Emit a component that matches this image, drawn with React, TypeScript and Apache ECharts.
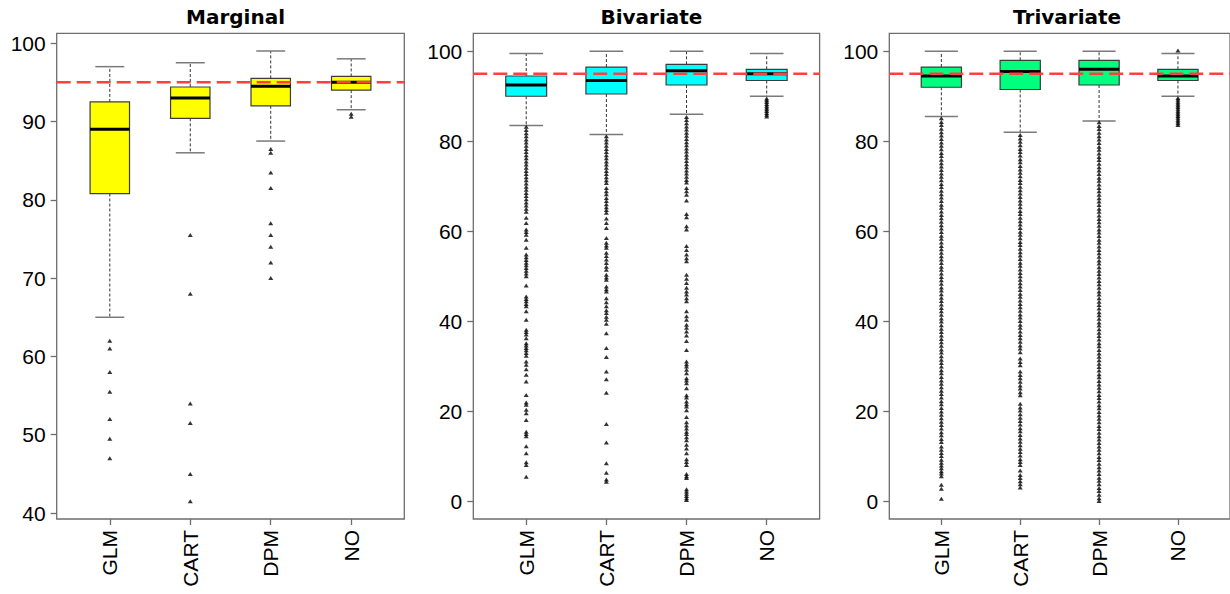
import React, { useEffect, useRef } from "react";
import * as echarts from "echarts";

const categories = ["GLM", "CART", "DPM", "NO"];
const panelTitles = ["Marginal", "Bivariate", "Trivariate"];
const boxColors = ["#ffff00", "#00ffff", "#00ff7f"];
const referenceLevel = 95;

// [lower whisker, Q1, median, Q3, upper whisker]
const marginalBoxes = [
  [65.0, 80.8, 89.0, 92.5, 97.0],
  [86.0, 90.4, 93.0, 94.4, 97.5],
  [87.5, 92.0, 94.5, 95.5, 99.0],
  [91.5, 94.0, 95.0, 95.75, 98.0],
];
const bivariateBoxes = [
  [83.5, 90.0, 92.5, 94.5, 99.5],
  [81.5, 90.5, 93.5, 96.5, 100.0],
  [86.0, 92.5, 95.7, 97.1, 100.0],
  [90.0, 93.5, 95.0, 96.0, 99.5],
];
const trivariateBoxes = [
  [85.5, 92.0, 94.5, 96.5, 100.0],
  [82.0, 91.5, 95.5, 98.0, 100.0],
  [84.5, 92.5, 96.0, 98.0, 100.0],
  [90.0, 93.5, 94.5, 96.0, 99.5],
];

const marginalOutGLM = [62, 61, 58, 55.5, 52, 49.5, 47];
const marginalOutCART = [75.5, 68, 54, 51.5, 45, 41.5];
const marginalOutDPM = [86.5, 86.0, 83.5, 81.5, 77, 75.5, 74, 72, 70];
const marginalOutNO = [91, 90.6];

const bivariateOutGLM = [
  83.2, 82.5, 81.8, 81.1, 80.4, 79.7, 79.0, 78.3, 77.6, 76.9, 76.2, 75.5, 74.8, 74.1, 73.4, 72.7, 72.0, 71.3,
  70.6, 69.9, 69.2, 68.5, 67.8, 67.1, 66.4, 65.7, 65.0, 64.3, 63.0, 61.8, 60.4, 59.8, 59.2, 58.1, 56.3, 54.8,
  54.2, 53.6, 53.0, 52.4, 51.8, 51.2, 50.6, 50.0, 47.9, 45.5, 44.9, 44.4, 43.8, 43.3, 42.2, 40.3, 38.1, 37.6,
  37.0, 36.2, 35.1, 34.6, 34.0, 33.5, 32.9, 32.3, 31.0, 30.3, 29.3, 28.1, 26.6, 23.6, 21.9, 21.4, 20.3, 19.5,
  18.0, 15.4, 14.9, 14.4, 12.2, 10.6, 8.6, 8.0, 5.4,
];
const bivariateOutCART = [
  81.1, 80.4, 79.7, 79.0, 78.3, 77.6, 76.9, 76.2, 75.5, 74.8, 74.1, 73.4, 72.7, 72.0, 71.3, 70.7, 69.6, 68.9,
  68.2, 67.4, 66.7, 66.0, 65.3, 64.7, 64.1, 62.8, 61.8, 60.7, 58.5, 57.4, 56.8, 56.3, 55.2, 54.5, 53.7, 52.9,
  52.1, 51.4, 50.3, 49.7, 49.2, 47.7, 47.1, 46.6, 45.1, 44.2, 43.3, 42.4, 41.8, 41.0, 40.3, 39.4, 37.3, 34.0,
  32.0, 28.8, 27.1, 24.1, 17.1, 13.0, 8.4, 6.3, 4.8, 4.3,
];
const bivariateOutDPM = [
  85.4, 84.7, 84.0, 83.3, 82.6, 81.9, 81.2, 80.5, 79.8, 79.1, 78.4, 77.7, 77.0, 76.3, 75.6, 74.9, 74.2, 73.5,
  72.8, 72.1, 71.4, 70.8, 69.6, 68.9, 68.1, 66.8, 63.8, 63.1, 61.1, 60.4, 56.7, 55.8, 54.8, 54.0, 53.3, 50.3,
  49.4, 48.5, 47.4, 46.6, 45.9, 45.1, 44.4, 42.2, 41.1, 40.3, 39.2, 38.5, 37.7, 36.8, 35.6, 33.6, 31.0, 30.4,
  29.9, 29.2, 28.4, 27.3, 26.8, 26.2, 25.1, 23.5, 23.0, 22.1, 21.5, 21.0, 20.2, 18.7, 17.5, 16.8, 16.1, 15.4,
  14.9, 14.2, 13.5, 12.5, 11.7, 10.6, 9.3, 8.7, 8.0, 6.0, 5.5, 5.1, 2.6, 2.1, 1.6, 1.1, 0.6, 0.2,
];
const bivariateOutNO = [89.5, 89.1, 88.7, 88.3, 87.9, 87.5, 87.1, 86.7, 86.3, 85.9, 85.5];

const trivariateOutGLM = [
  85.1, 84.3, 83.6, 82.8, 82.0, 81.3, 80.5, 79.7, 79.0, 78.2, 77.4, 76.7, 75.9, 75.1, 74.4, 73.6, 72.8, 72.1,
  71.3, 70.5, 69.8, 69.0, 68.2, 67.5, 66.7, 65.9, 65.2, 64.4, 63.6, 62.9, 62.1, 61.3, 60.6, 59.8, 59.0, 58.3,
  57.5, 56.7, 56.0, 55.2, 54.4, 53.7, 52.9, 52.1, 51.4, 50.6, 49.8, 49.1, 48.3, 47.5, 46.8, 46.0, 45.2, 44.5,
  43.7, 42.9, 42.2, 41.4, 40.6, 39.9, 39.1, 38.3, 37.6, 36.8, 36.0, 35.3, 34.5, 33.7, 33.0, 32.2, 31.4, 30.7,
  29.9, 29.1, 28.4, 27.6, 26.8, 26.1, 25.3, 24.5, 23.8, 23.0, 22.2, 21.5, 20.7, 19.9, 19.2, 18.4, 17.6, 16.9,
  16.1, 15.3, 14.6, 13.8, 13.1, 12.1, 11.4, 10.7, 10.0, 9.2, 8.5, 7.9, 7.3, 6.6, 6.1, 5.5, 3.6, 2.7, 0.5,
];
const trivariateOutCART = [
  81.4, 80.6, 79.9, 79.1, 78.3, 77.6, 76.8, 76.0, 75.3, 74.5, 73.7, 73.0, 72.2, 71.4, 70.7, 69.9, 69.1, 68.4,
  67.6, 66.8, 66.1, 65.3, 64.5, 63.8, 63.0, 62.2, 61.5, 60.7, 59.9, 59.2, 58.4, 57.6, 56.9, 56.1, 55.3, 54.6,
  53.8, 53.0, 52.3, 51.5, 50.7, 50.0, 49.2, 48.4, 47.7, 46.9, 46.1, 45.4, 44.6, 43.8, 43.1, 42.3, 41.5, 40.8,
  40.0, 39.2, 38.5, 37.7, 36.9, 36.2, 35.4, 34.6, 33.9, 33.1, 31.7, 30.9, 30.2, 28.8, 28.0, 27.3, 26.5, 25.7,
  25.0, 24.2, 23.5, 21.6, 20.8, 20.1, 19.3, 18.5, 17.8, 17.0, 16.2, 15.5, 14.7, 13.9, 13.2, 12.4, 11.6, 10.9,
  10.1, 9.3, 8.7, 8.0, 6.8, 5.8, 5.1, 4.4, 3.7, 3.0,
];
const trivariateOutDPM = [
  84.2, 83.4, 82.7, 81.9, 81.1, 80.4, 79.6, 78.8, 78.1, 77.3, 76.5, 75.8, 75.0, 74.2, 73.5, 72.7, 71.9, 71.2,
  70.4, 69.6, 68.9, 68.1, 67.3, 66.6, 65.8, 65.0, 64.3, 63.5, 62.7, 62.0, 61.2, 60.4, 59.7, 58.9, 58.1, 57.4,
  56.6, 55.8, 55.1, 54.3, 53.5, 52.8, 52.0, 51.2, 50.5, 49.7, 48.9, 48.2, 47.4, 46.6, 45.9, 45.1, 44.3, 43.6,
  42.8, 42.0, 41.3, 40.5, 39.7, 39.0, 38.2, 37.4, 36.7, 35.9, 35.1, 34.4, 33.6, 32.8, 32.1, 31.3, 30.5, 29.8,
  29.0, 28.2, 27.5, 26.7, 25.9, 25.2, 24.4, 23.6, 22.9, 22.1, 21.3, 20.6, 19.8, 19.0, 18.3, 17.5, 16.7, 16.0,
  15.2, 14.4, 13.7, 12.9, 12.1, 11.4, 10.6, 9.8, 9.1, 8.3, 7.5, 6.8, 6.0, 5.2, 4.5, 3.7, 2.9, 2.2, 1.4, 0.6, 0.0,
];
const trivariateOutNO = [
  100.2, 89.6, 89.2, 88.8, 88.4, 88.0, 87.6, 87.2, 86.8, 86.4, 86.0, 85.6, 85.2, 84.8, 84.4, 84.0, 83.6,
];

const marginalTicks = [40, 50, 60, 70, 80, 90, 100];
const percentTicks = [0, 20, 40, 60, 80, 100];

const panels = [
  {
    title: panelTitles[0],
    color: boxColors[0],
    boxes: marginalBoxes,
    outliers: [marginalOutGLM, marginalOutCART, marginalOutDPM, marginalOutNO],
    yMin: 39.24,
    yMax: 101.26,
    ticks: marginalTicks,
    left: 56.7,
    width: 347.6,
    boxW: 0.49,
    stapleW: 0.36,
  },
  {
    title: panelTitles[1],
    color: boxColors[1],
    boxes: bivariateBoxes,
    outliers: [bivariateOutGLM, bivariateOutCART, bivariateOutDPM, bivariateOutNO],
    yMin: -4,
    yMax: 104,
    ticks: percentTicks,
    left: 473.3,
    width: 346.3,
    boxW: 0.51,
    stapleW: 0.42,
  },
  {
    title: panelTitles[2],
    color: boxColors[2],
    boxes: trivariateBoxes,
    outliers: [trivariateOutGLM, trivariateOutCART, trivariateOutDPM, trivariateOutNO],
    yMin: -4,
    yMax: 104,
    ticks: percentTicks,
    left: 889.3,
    width: 345.6,
    boxW: 0.51,
    stapleW: 0.42,
  },
];

const FONT = "Liberation Sans, Arial, sans-serif";
const TITLE_FONT = "DejaVu Sans, Verdana, sans-serif";
const X_MIN = 0.34;
const X_MAX = 4.66;
const catPositions = [1, 2, 3, 4];

function buildOption() {
  const grid: any[] = [];
  const xAxis: any[] = [];
  const yAxis: any[] = [];
  const series: any[] = [];
  const title: any[] = [];

  panels.forEach((p, gi) => {
    grid.push({
      left: p.left,
      top: 33.3,
      width: p.width,
      height: 485.7,
      show: true,
      borderColor: "#6e6e6e",
      borderWidth: 1.3,
      backgroundColor: "transparent",
      containLabel: false,
    });
    title.push({
      text: p.title,
      left: p.left + p.width / 2,
      top: 2,
      textAlign: "center",
      textStyle: { fontFamily: TITLE_FONT, fontSize: 20, fontWeight: "bold", color: "#000" },
    });
    xAxis.push({
      type: "value",
      gridIndex: gi,
      min: X_MIN,
      max: X_MAX,
      axisLine: { show: false, onZero: false },
      splitLine: { show: false },
      axisTick: {
        show: true,
        length: 6,
        customValues: catPositions,
        lineStyle: { color: "#6e6e6e", width: 1.3 },
      },
      axisLabel: {
        show: true,
        customValues: catPositions,
        rotate: 90,
        margin: 11,
        fontFamily: FONT,
        fontSize: 21,
        color: "#000",
        formatter: (v: number) => categories[Math.round(v) - 1] || "",
      },
    });
    yAxis.push({
      type: "value",
      gridIndex: gi,
      min: p.yMin,
      max: p.yMax,
      axisLine: { show: false, onZero: false },
      splitLine: { show: false },
      axisTick: {
        show: true,
        length: 6,
        customValues: p.ticks,
        lineStyle: { color: "#6e6e6e", width: 1.3 },
      },
      axisLabel: {
        show: true,
        customValues: p.ticks,
        margin: 11,
        fontFamily: FONT,
        fontSize: 21,
        color: "#000",
      },
    });

    const boxW = p.boxW;
    const stapleW = p.stapleW;
    const fill = p.color;
    series.push({
      type: "custom",
      xAxisIndex: gi,
      yAxisIndex: gi,
      z: 2,
      clip: false,
      data: p.boxes.map((b, i) => [catPositions[i], b[0], b[1], b[2], b[3], b[4]]),
      encode: { x: 0, y: [1, 2, 3, 4, 5] },
      renderItem: (params: any, api: any) => {
        const x = api.value(0);
        const lo = api.coord([x, api.value(1)]);
        const q1 = api.coord([x, api.value(2)]);
        const md = api.coord([x, api.value(3)]);
        const q3 = api.coord([x, api.value(4)]);
        const hi = api.coord([x, api.value(5)]);
        const bw = api.size([boxW, 0])[0];
        const sw = api.size([stapleW, 0])[0];
        const cx = lo[0];
        const whisker = { stroke: "#333", lineWidth: 1, lineDash: [3, 2] };
        const staple = { stroke: "#7a7a7a", lineWidth: 1.5 };
        return {
          type: "group",
          children: [
            { type: "line", shape: { x1: cx, y1: q3[1], x2: cx, y2: hi[1] }, style: whisker },
            { type: "line", shape: { x1: cx, y1: q1[1], x2: cx, y2: lo[1] }, style: whisker },
            { type: "line", shape: { x1: cx - sw / 2, y1: hi[1], x2: cx + sw / 2, y2: hi[1] }, style: staple },
            { type: "line", shape: { x1: cx - sw / 2, y1: lo[1], x2: cx + sw / 2, y2: lo[1] }, style: staple },
            {
              type: "rect",
              shape: { x: cx - bw / 2, y: q3[1], width: bw, height: q1[1] - q3[1] },
              style: { fill, stroke: "#3c3c3c", lineWidth: 1.2 },
            },
            {
              type: "line",
              shape: { x1: cx - bw / 2, y1: md[1], x2: cx + bw / 2, y2: md[1] },
              style: { stroke: "#000", lineWidth: 3 },
            },
          ],
        };
      },
    });

    const pts: number[][] = [];
    p.outliers.forEach((arr, i) => arr.forEach((v) => pts.push([catPositions[i], v])));
    series.push({
      type: "scatter",
      xAxisIndex: gi,
      yAxisIndex: gi,
      z: 3,
      symbol: "triangle",
      symbolSize: [5, 4],
      itemStyle: { color: "#000" },
      data: pts,
      silent: true,
    });

    series.push({
      type: "line",
      xAxisIndex: gi,
      yAxisIndex: gi,
      z: 4,
      symbol: "none",
      data: [
        [X_MIN, referenceLevel],
        [X_MAX, referenceLevel],
      ],
      lineStyle: { color: "#ff4040", width: 2.4, type: [14, 6] },
      silent: true,
    });
  });

  return { animation: false, backgroundColor: "#fff", title, grid, xAxis, yAxis, series };
}

export default function App() {
  const ref = useRef<HTMLDivElement>(null);
  useEffect(() => {
    if (!ref.current) return;
    const chart = echarts.init(ref.current, null, { renderer: "svg" });
    chart.setOption(buildOption() as any);
    return () => chart.dispose();
  }, []);
  return (
    <div
      ref={ref}
      style={{ position: "fixed", left: 0, top: 0, width: 1230, height: 594, background: "#fff" }}
    />
  );
}
